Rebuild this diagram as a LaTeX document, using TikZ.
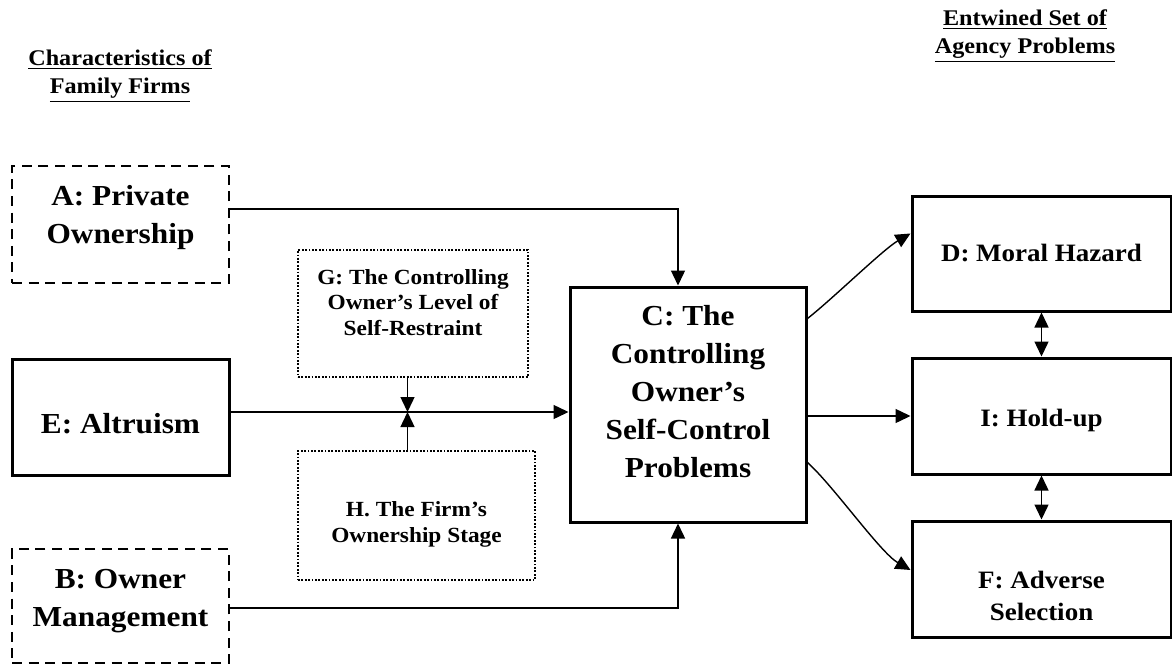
\documentclass[tikz,border=0pt]{standalone}
\usepackage{fontspec}
\setmainfont{Liberation Serif}[FakeStretch=1.08]
\usetikzlibrary{arrows.meta}
\tikzset{
	big/.style={font=\fontsize{14.5}{19}\selectfont\bfseries, align=center},
	mid/.style={font=\fontsize{12.5}{16}\selectfont\bfseries, align=center},
	small/.style={font=\fontsize{10.8}{12.8}\selectfont\bfseries, align=center},
	head/.style={font=\fontsize{11.2}{14}\selectfont\bfseries, align=center, inner sep=0pt},
	firmbox/.style={draw, line width=1.4pt, dash pattern=on 5pt off 3.3pt},
	solidbox/.style={draw, line width=1.5pt},
	modbox/.style={draw, line width=0.9pt, dash pattern=on 0.9pt off 0.8pt},
	link/.style={line width=0.7pt}
}
\begin{document}
\begin{tikzpicture}[x=0.5pt, y=-0.5pt, >={Triangle[length=7.5pt,width=7pt]}]
	\useasboundingbox (0,0) rectangle (1172,664);
	% headings
	\node[head] (hfirm) at (120,76) {\underline{Characteristics of}\\\underline{Family Firms}};
	\node[head] (hagency) at (1025,36) {\underline{Entwined Set of}\\\underline{Agency Problems}};
	% characteristics of family firms
	\node[firmbox, minimum width=108.5pt, minimum height=58.5pt] (A) at (120.5,224.5) {};
	\node[solidbox, minimum width=108.5pt, minimum height=58pt] (E) at (120.5,417) {};
	\node[firmbox, minimum width=108.5pt, minimum height=57pt] (B) at (120.5,606) {};
	\node[big] (A-txt) at ([yshift=3.5pt]A.center) {A: Private\\Ownership};
	\node[big] (E-txt) at ([yshift=-3.5pt]E.center) {E: Altruism};
	\node[big] (B-txt) at ([yshift=2.25pt]B.center) {B: Owner\\Management};
	% moderators
	\node[modbox, minimum width=115pt, minimum height=63.5pt] (G) at (413,313.5) {};
	\node[modbox, minimum width=118.5pt, minimum height=64.5pt] (H) at (416.5,515.5) {};
	\node[small] (G-txt) at ([yshift=5.5pt]G.center) {G: The Controlling\\Owner's Level of\\Self-Restraint};
	\node[small] (H-txt) at ([yshift=-4.5pt]H.center) {H. The Firm's\\Ownership Stage};
	% self-control problems
	\node[solidbox, minimum width=118pt, minimum height=117.5pt] (C) at (688,404.5) {};
	\node[big] (C-txt) at ([yshift=6.5pt]C.center) {C: The\\Controlling\\Owner's\\Self-Control\\Problems};
	% agency problems
	\node[solidbox, minimum width=129.5pt, minimum height=57.5pt] (D) at (1041.5,253.5) {};
	\node[solidbox, minimum width=129.5pt, minimum height=58pt] (I) at (1041.5,416) {};
	\node[solidbox, minimum width=129.5pt, minimum height=58pt] (F) at (1041.5,579) {};
	\node[mid] (D-txt) at (D.center) {D: Moral Hazard};
	\node[mid] (I-txt) at ([yshift=-2pt]I.center) {I: Hold-up};
	\node[mid] (F-txt) at ([yshift=-8.5pt]F.center) {F: Adverse\\Selection};
	\coordinate (meet) at (407.5,412);
	\draw[link,->] ([yshift=7.75pt]A.east) -| ([xshift=-5pt]C.north);
	\draw[link,->] (E.east |- meet) -- (C.west |- meet);
	\draw[link,->] (G.south -| meet) -- (meet);
	\draw[link,->] (H.north -| meet) -- (meet);
	\draw[link,->] ([yshift=-1pt]B.east) -| ([xshift=-5pt]C.south);
	\draw[link,->] ([yshift=43pt]C.east) to[out=38,in=-150,looseness=0.6] ([yshift=10pt]D.west);
	\draw[link,->] (C.east |- I.west) -- (I.west);
	\draw[link,->] ([yshift=-29pt]C.east) to[out=-42,in=150,looseness=0.6] ([yshift=4.5pt]F.west);
	\draw[link,<->] (D.south) -- (I.north);
	\draw[link,<->] (I.south) -- (F.north);
\end{tikzpicture}
\end{document}
